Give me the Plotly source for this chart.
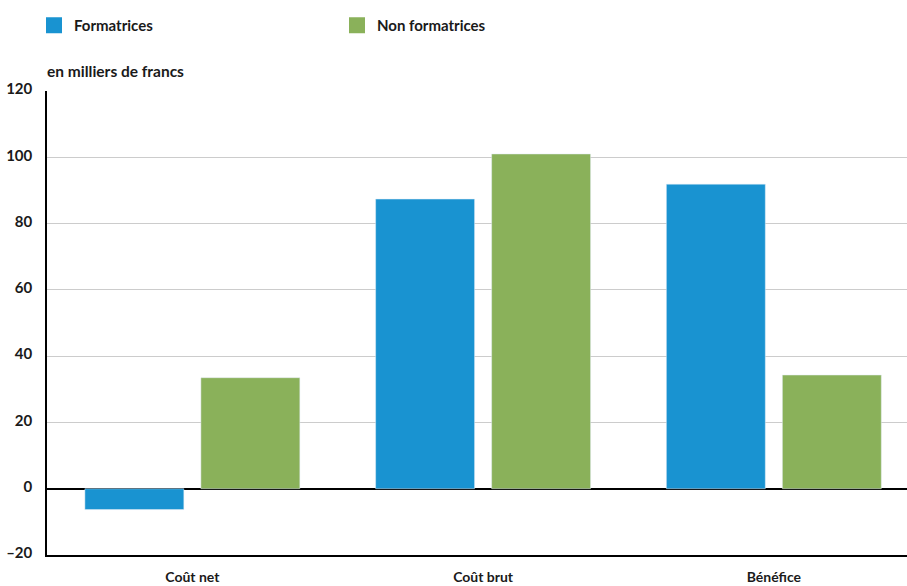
import plotly.graph_objects as go

categories = ["Coût net", "Coût brut", "Bénéfice"]
formatrices = [-6.3, 87.4, 91.9]
non_formatrices = [33.5, 101.0, 34.3]
y_ticks = [-20, 0, 20, 40, 60, 80, 100, 120]
y_tick_text = ["–20", "0", "20", "40", "60", "80", "100", "120"]

BLUE = "#1993d1"
GREEN = "#8ab15a"
FONT = "Lato"

fig = go.Figure()
fig.add_trace(go.Bar(x=categories, y=formatrices, marker_color=BLUE, showlegend=False, name="Formatrices"))
fig.add_trace(go.Bar(x=categories, y=non_formatrices, marker_color=GREEN, showlegend=False, name="Non formatrices"))
# legend proxies
fig.add_trace(go.Scatter(x=[None], y=[None], mode="markers", name="Formatrices",
                         marker=dict(symbol="square", size=20, color=BLUE)))
fig.add_trace(go.Scatter(x=[None], y=[None], mode="markers", name="Non formatrices",
                         marker=dict(symbol="square", size=20, color=GREEN)))

fig.update_layout(
    width=907, height=586,
    margin=dict(l=47, r=0, t=91, b=31),
    paper_bgcolor="white", plot_bgcolor="white",
    barmode="group", bargap=0.202, bargroupgap=0.147,
    font=dict(family=FONT, size=15, color="#1a1a1a", weight="bold"),
    legend=dict(orientation="h", x=34 / 907, xref="container", xanchor="left",
                y=1 - 9 / 586, yref="container", yanchor="top",
                entrywidth=258, entrywidthmode="pixels",
                font=dict(family=FONT, size=15, color="#1a1a1a", weight="bold"),
                itemsizing="trace"),
    xaxis=dict(range=[-0.5, 2.458], showgrid=False, showline=True, linecolor="black",
               linewidth=1.5, ticks="", tickfont=dict(size=14, weight="bold"),
               ticklabelstandoff=8),
    yaxis=dict(range=[-20, 120], tickvals=y_ticks, ticktext=y_tick_text,
               showgrid=True, gridcolor="#cccccc", gridwidth=1.2,
               showline=True, linecolor="black", linewidth=1.5,
               zeroline=True, zerolinecolor="black", zerolinewidth=1.5,
               ticks="", ticklabelstandoff=10, ticklabelshift=-2,
               tickfont=dict(size=15, weight="bold")),
)
fig.add_annotation(text="en milliers de francs", xref="paper", yref="paper",
                   x=0, y=1 + (91 - 71) / 464, xanchor="left", yanchor="middle", xshift=-2,
                   showarrow=False, font=dict(family=FONT, size=15.5, weight="bold", color="#1a1a1a"))

fig.write_html("out.html")
